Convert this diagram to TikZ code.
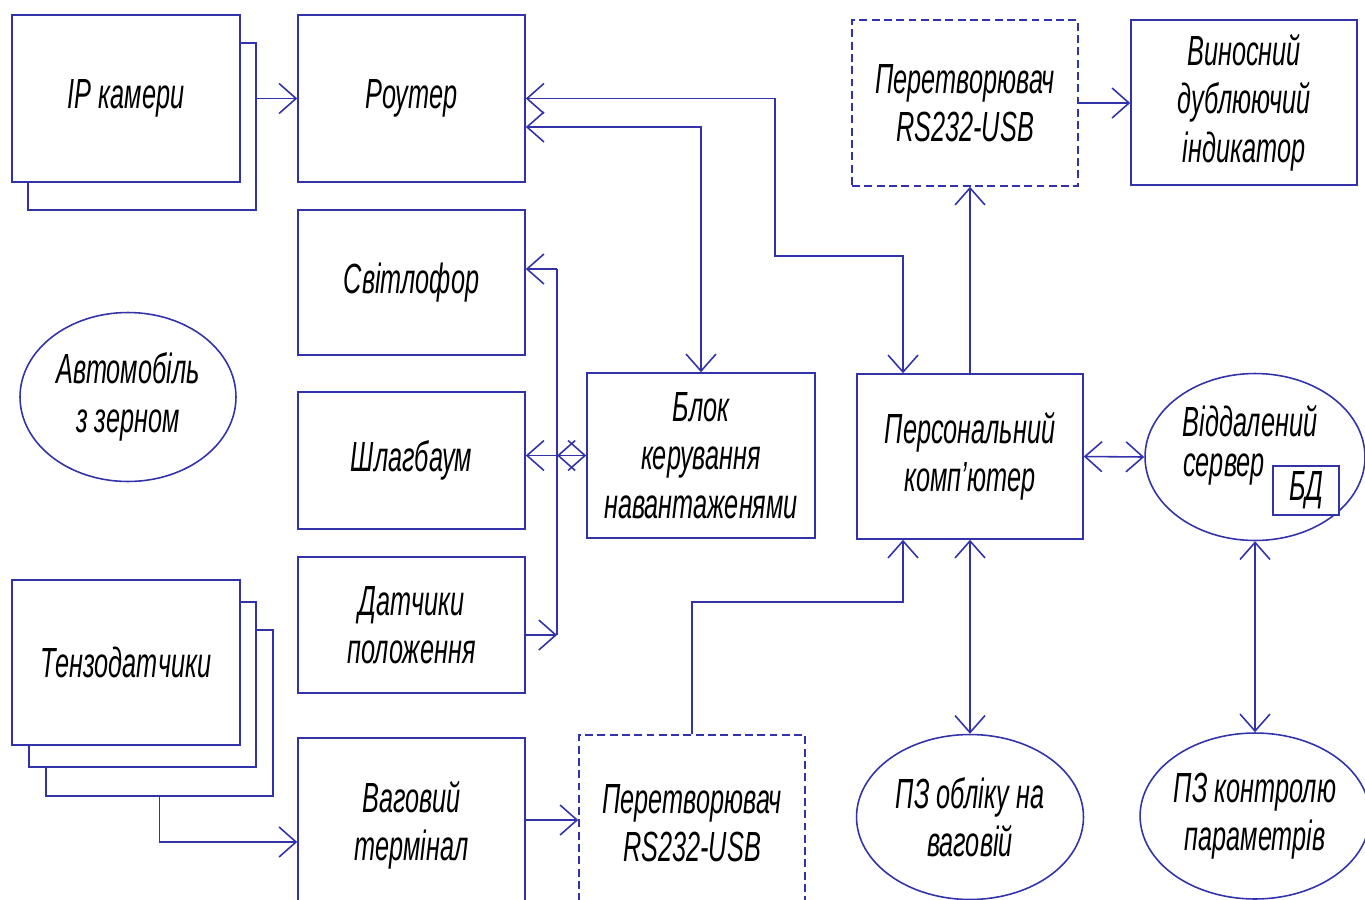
\documentclass[tikz,border=0pt]{standalone}
\usepackage{fontspec}
\setmainfont{Liberation Sans}[FakeStretch=0.6]
\usetikzlibrary{arrows.meta,shapes.geometric}
\definecolor{schemeblue}{RGB}{50,50,170}

\begin{document}
\begin{tikzpicture}[x=0.02cm,y=-0.02cm,
    	every node/.style={font=\fontsize{24}{27.5}\selectfont\itshape, align=center},
    	blk/.style={draw=schemeblue, line width=0.9pt, fill=white, inner sep=0pt, minimum width=4.54cm},
    	conv/.style={blk, dash pattern=on 4.5pt off 2.5pt},
    	oval/.style={ellipse, draw=schemeblue, line width=0.9pt, inner sep=0pt},
    	link/.style={draw=schemeblue, line width=0.9pt},
    	>={Straight Barb[length=3.4mm,width=6mm]}]
    		\useasboundingbox (0,0) rectangle (1365,899);
    		\node[blk, minimum width=4.56cm, minimum height=3.34cm] (ipback) at (142,126.5) {};
    		\node[blk, minimum width=4.56cm, minimum height=3.34cm] (ip) at (126,98.5) {IP камери};
    		\node[blk, minimum height=3.34cm] (router) at (411.5,98.5) {Роутер};
    		\node[blk, minimum height=2.9cm] (svit) at (411.5,282.5) {Світлофор};
    		\node[blk, minimum height=2.74cm] (shlag) at (411.5,460.5) {Шлагбаум};
    		\node[blk, minimum height=2.72cm] (dat) at (411.5,625) {Датчики\\положення};
    		\node[blk, minimum height=3.48cm] (vag) at (411.5,825) {Ваговий\\термінал};
    		\node[blk, minimum height=3.32cm] (tenz3) at (159.5,713) {};
    		\node[blk, minimum height=3.3cm] (tenz2) at (142.5,684.5) {};
    		\node[blk, minimum width=4.56cm, minimum height=3.3cm] (tenz) at (126,662.5) {Тензодатчики};
    		\node[blk, minimum width=4.56cm, minimum height=3.3cm] (blok) at (701,455.5) {Блок\\керування\\навантаженями};
    		\node[blk, minimum width=4.52cm, minimum height=3.3cm] (pc) at (970,456.5) {Персональний\\комп’ютер};
    		\node[conv, minimum width=4.52cm, minimum height=3.32cm] (conv1) at (965,103) {Перетворювач\\RS232-USB};
    		\node[blk, minimum width=4.52cm, minimum height=3.3cm] (vyn) at (1244,102.5) {Виносний\\дублюючий\\індикатор};
    		\node[conv, minimum width=4.52cm, minimum height=3.54cm] (conv2) at (692,823.5) {Перетворювач\\RS232-USB};
    		\node[oval, minimum width=4.32cm, minimum height=3.38cm] (avto) at (128,397) {Автомобіль\\з зерном};
    		\node[oval, minimum width=4.4cm, minimum height=3.34cm] (server) at (1255,457) {};
    		\node (srvtop) at (1250,421) {Віддалений};
    		\node (srvbot) at (1224,470) {сервер};
    		\node[blk, minimum width=1.32cm, minimum height=0.98cm] (bd) at (1306,490.5) {БД};
    		\node[oval, minimum width=4.54cm, minimum height=3.3cm] (pz1) at (970,817) {ПЗ обліку на\\ваговій};
    		\node[oval, minimum width=4.4cm, minimum height=3.32cm] (pz2) at (1255,816) {ПЗ контролю\\параметрів};
    		\coordinate (bustop) at (557,269);
    		\coordinate (busbot) at (557,635);
    		\coordinate (bend) at (903,602);
    		\draw[link,->] (ipback.east |- ip.east) -- (router.west);
    		\draw[link,<->] (router.east) -| (775,256) -| ([xshift=-1.34cm]pc.north);
    		\draw[link,<->] ([yshift=-0.57cm]router.east) -| (blok.north);
    		\draw[link] (bustop) -- (busbot);
    		\draw[link,->] (bustop) -- (bustop -| svit.east);
    		\draw[link,<->] (blok.west) -- (blok.west -| bustop);
    		\draw[link,->] (blok.west -| bustop) -- (blok.west -| shlag.east);
    		\draw[link,->] (busbot -| dat.east) -- (busbot);
    		\draw[link,->] (tenz3.south) |- ([yshift=-0.34cm]vag.west);
    		\draw[link,->] ([yshift=0.1cm]vag.east) -- ([yshift=0.1cm]vag.east -| conv2.west);
    		\draw[link,->] (conv2.north) |- (bend) -- (bend |- pc.south);
    		\draw[link,->] (pc.north) -- (pc.north |- conv1.south);
    		\draw[link,->] (conv1.east) -- (conv1.east -| vyn.west);
    		\draw[link,<->] (pc.east) -- (server.west);
    		\draw[link,<->] (pc.south) -- (pz1.north);
    		\draw[link,<->] (server.south) -- (pz2.north);
    	\end{tikzpicture}
\end{document}
